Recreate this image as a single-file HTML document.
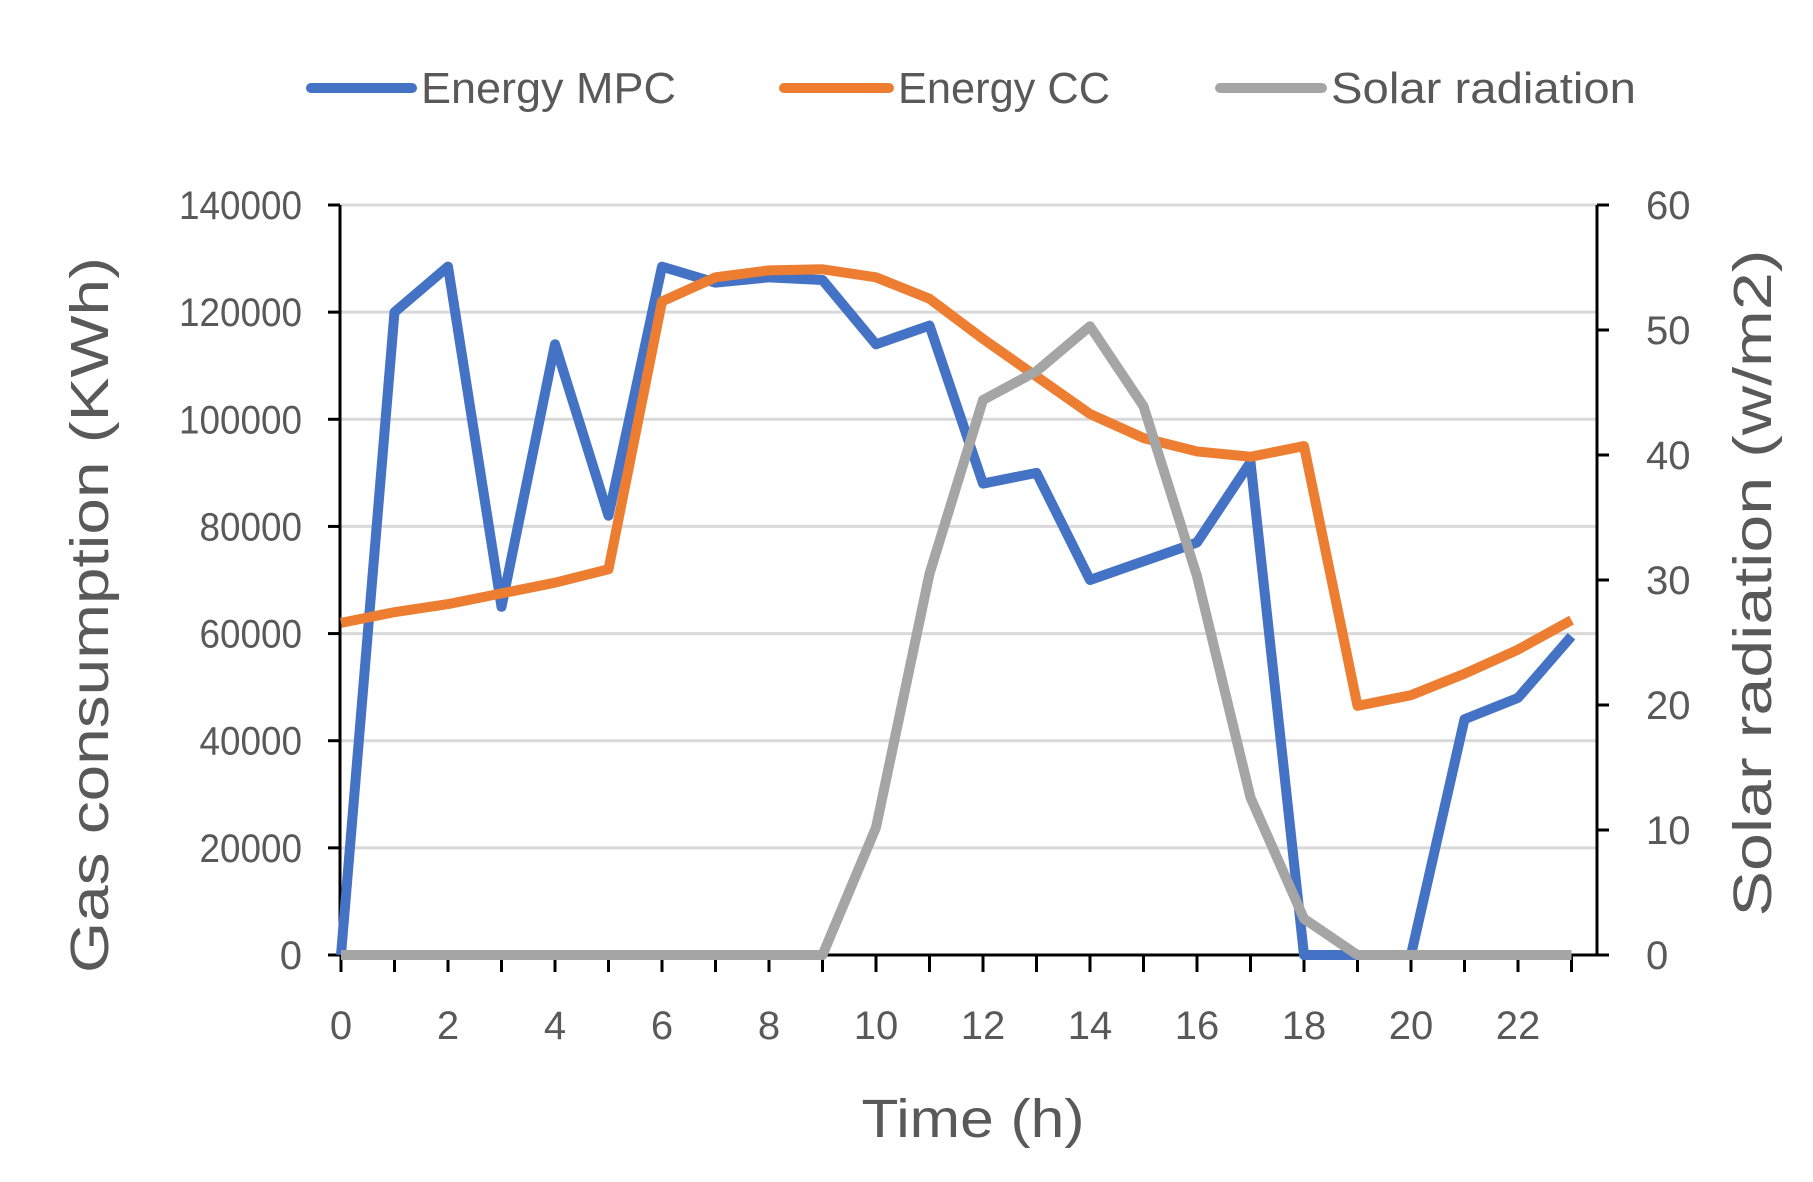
<!DOCTYPE html>
<html><head><meta charset="utf-8"><style>
html,body{margin:0;padding:0;background:#fff;}
svg{display:block;font-family:"Liberation Sans",sans-serif;}
</style></head><body>
<svg id="chart" width="1813" height="1182"></svg>
<script>
const hours=[0,1,2,3,4,5,6,7,8,9,10,11,12,13,14,15,16,17,18,19,20,21,22,23];
const energyMPC=[0,120000,128500,65000,114000,82000,128500,125500,126500,126000,114000,117500,88000,90000,70000,73500,77000,92000,0,0,0,44000,48000,59500];
const energyCC=[62000,64000,65500,67500,69500,72000,122000,126500,127800,128000,126500,122500,115000,108000,101000,96500,94000,93000,95000,46500,48500,52500,57000,62500];
const solar=[0,0,0,0,0,0,0,0,0,0,10.2,30.5,44.4,46.7,50.3,43.9,30.3,12.6,2.9,0,0,0,0,0];
const leftTicks=[0,20000,40000,60000,80000,100000,120000,140000];
const rightTicks=[0,10,20,30,40,50,60];
const xTickLabels=[0,2,4,6,8,10,12,14,16,18,20,22];

const NS="http://www.w3.org/2000/svg";
const svg=document.getElementById('chart');
const X0=341,XS=53.5,Y0=955,YT=205;
const xs=h=>X0+h*XS;
const yl=v=>Y0-(v/140000)*(Y0-YT);
const yr=v=>Y0-(v/60)*(Y0-YT);
function mk(tag,attrs,parent){const e=document.createElementNS(NS,tag);for(const k in attrs)e.setAttribute(k,attrs[k]);(parent||svg).appendChild(e);return e;}

leftTicks.forEach(v=>{if(v===0)return;
const g=mk('line',{x1:341,x2:1597,y1:yl(v),y2:yl(v),stroke:'#d9d9d9','stroke-width':3});

});

const la=mk('line',{x1:340,x2:340,y1:YT,y2:Y0,stroke:'#000','stroke-width':3});


const ra=mk('line',{x1:1597,x2:1597,y1:YT,y2:Y0,stroke:'#000','stroke-width':3});


const xa=mk('line',{x1:328,x2:1597,y1:Y0,y2:Y0,stroke:'#000','stroke-width':3});



leftTicks.forEach(v=>{
const t=mk('line',{x1:328,x2:340,y1:yl(v),y2:yl(v),stroke:'#000','stroke-width':3});


const tx=mk('text',{x:302,y:yl(v)+14,'text-anchor':'end','font-size':40,fill:'#595959'});
tx.textContent=v;
if(String(v).length>1){tx.setAttribute('textLength',String(v).length*20.5);tx.setAttribute('lengthAdjust','spacingAndGlyphs');}

});
rightTicks.forEach(v=>{
const t=mk('line',{x1:1597,x2:1609,y1:yr(v),y2:yr(v),stroke:'#000','stroke-width':3});


const tx=mk('text',{x:1646,y:yr(v)+14,'font-size':40,fill:'#595959'});
tx.textContent=v;

});
hours.forEach(h=>{
const t=mk('line',{x1:xs(h),x2:xs(h),y1:Y0,y2:Y0+17,stroke:'#000','stroke-width':3});

});
xTickLabels.forEach(h=>{
const tx=mk('text',{x:xs(h),y:1039,'text-anchor':'middle','font-size':40,fill:'#595959'});
tx.textContent=h;

});

function series(vals,fy,color,name){
const p=mk('polyline',{points:vals.map((v,i)=>xs(hours[i])+','+fy(v)).join(' '),fill:'none',stroke:color,'stroke-width':10,'stroke-linejoin':'round'});

}
series(energyMPC,yl,'#4472c4','energy-mpc-line');
series(energyCC,yl,'#ed7d31','energy-cc-line');
series(solar,yr,'#a5a5a5','solar-radiation-line');
</script>
<script>
(function(){
const NS="http://www.w3.org/2000/svg";const svg=document.getElementById('chart');
function mk(tag,attrs){const e=document.createElementNS(NS,tag);for(const k in attrs)e.setAttribute(k,attrs[k]);svg.appendChild(e);return e;}
const legend=[['Energy MPC','#4472c4',311,412,421,255],['Energy CC','#ed7d31',784,889,898,212],['Solar radiation','#a5a5a5',1220,1322,1331,305]];
legend.forEach(l=>{
const ln=mk('line',{x1:l[2],x2:l[3],y1:88,y2:88,stroke:l[1],'stroke-width':10,'stroke-linecap':'round'});


const t=mk('text',{x:l[4],y:103,'font-size':44,fill:'#595959',textLength:l[5],lengthAdjust:'spacingAndGlyphs'});
t.textContent=l[0];

});
const xt=mk('text',{x:973,y:1137,'text-anchor':'middle','font-size':54,fill:'#595959',textLength:223,lengthAdjust:'spacingAndGlyphs'});
xt.textContent='Time (h)';


const yt=mk('text',{x:0,y:0,'text-anchor':'middle','font-size':54,fill:'#595959',textLength:716,lengthAdjust:'spacingAndGlyphs',transform:'translate(108,615) rotate(-90)'});
yt.textContent='Gas consumption (KWh)';


const rt=mk('text',{x:0,y:0,'text-anchor':'middle','font-size':54,fill:'#595959',textLength:667,lengthAdjust:'spacingAndGlyphs',transform:'translate(1771,583) rotate(-90)'});
rt.textContent='Solar radiation (w/m2)';


})();
</script>
</body></html>
